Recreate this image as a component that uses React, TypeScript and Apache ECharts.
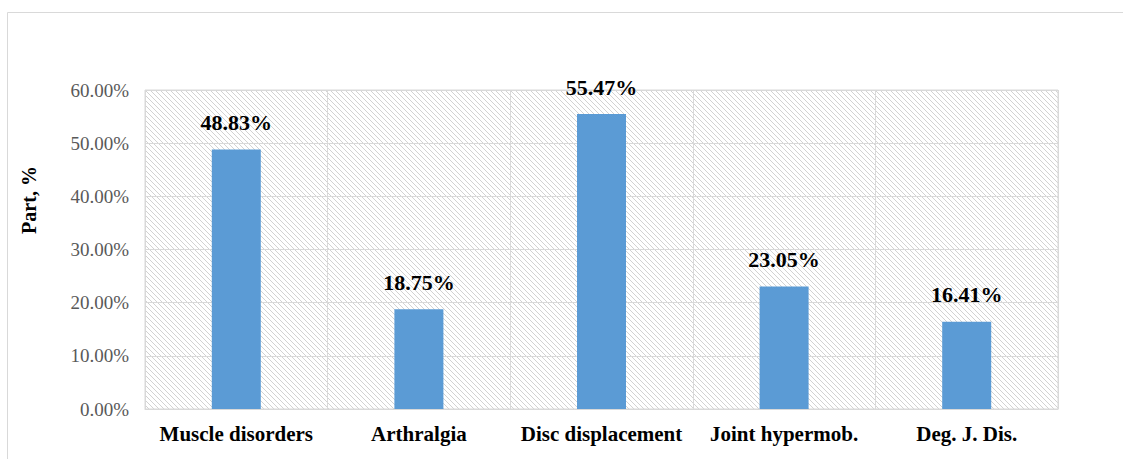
import React, { useEffect, useRef } from "react";
import * as echarts from "echarts";

const categories = ["Muscle disorders", "Arthralgia", "Disc displacement", "Joint hypermob.", "Deg. J. Dis."];
const values = [48.83, 18.75, 55.47, 23.05, 16.41];
const yTicks = [0, 10, 20, 30, 40, 50, 60];
const yAxisTitle = "Part, %";

function makeHatch(): HTMLCanvasElement {
  const c = document.createElement("canvas");
  const s = 5;
  c.width = s;
  c.height = s;
  const ctx = c.getContext("2d")!;
  ctx.fillStyle = "#ffffff";
  ctx.fillRect(0, 0, s, s);
  ctx.strokeStyle = "#d2d2d2";
  ctx.lineWidth = 1;
  ctx.beginPath();
  ctx.moveTo(-1, -1);
  ctx.lineTo(s + 1, s + 1);
  ctx.moveTo(-1, s - 1);
  ctx.lineTo(1, s + 1);
  ctx.moveTo(s - 1, -1);
  ctx.lineTo(s + 1, 1);
  ctx.stroke();
  return c;
}

export default function App() {
  const ref = useRef<HTMLDivElement>(null);
  useEffect(() => {
    if (!ref.current) return;
    const chart = echarts.init(ref.current, undefined, { renderer: "svg" });
    const hatch = makeHatch();
    chart.setOption({
      animation: false,
      backgroundColor: "#ffffff",
      grid: {
        show: true,
        left: 145,
        right: 65,
        top: 90,
        bottom: 50,
        borderColor: "#d9d9d9",
        borderWidth: 1,
        backgroundColor: { image: hatch, repeat: "repeat" } as any,
      },
      graphic: [
        {
          type: "rect",
          shape: { x: 7.5, y: 12.5, width: 1200, height: 600 },
          style: { fill: "none", stroke: "#d9d9d9", lineWidth: 1 },
          silent: true,
        },
        {
          type: "text",
          x: 29,
          y: 200,
          rotation: Math.PI / 2,
          style: {
            text: yAxisTitle,
            font: "bold 20px 'Liberation Serif', serif",
            fill: "#000000",
            align: "center",
            verticalAlign: "middle",
          },
        },
      ],
      xAxis: {
        type: "category",
        data: categories,
        axisTick: { show: false },
        axisLine: { show: true, lineStyle: { color: "#d9d9d9" } },
        splitLine: { show: true, lineStyle: { color: "#d9d9d9", width: 1 } },
        axisLabel: {
          color: "#000000",
          fontFamily: "'Liberation Serif', serif",
          fontWeight: "bold",
          fontSize: 21,
          margin: 14,
          interval: 0,
        },
      },
      yAxis: {
        type: "value",
        min: yTicks[0],
        max: yTicks[yTicks.length - 1],
        interval: 10,
        axisLine: { show: false },
        axisTick: { show: false },
        splitLine: { show: true, lineStyle: { color: "#d9d9d9", width: 1 } },
        axisLabel: {
          color: "#595959",
          fontFamily: "'Liberation Serif', serif",
          fontSize: 19,
          margin: 16,
          formatter: (v: number) => v.toFixed(2) + "%",
        },
      },
      series: [
        {
          type: "bar",
          data: values,
          barWidth: 49,
          itemStyle: { color: "#5B9BD5" },
          label: {
            show: true,
            position: "top",
            distance: 16,
            color: "#000000",
            fontFamily: "'Liberation Serif', serif",
            fontWeight: "bold",
            fontSize: 22,
            formatter: (p: any) => p.value.toFixed(2) + "%",
          },
        },
      ],
    });
    return () => chart.dispose();
  }, []);
  return (
    <div
      ref={ref}
      style={{ position: "absolute", left: 0, top: 0, width: 1123, height: 459 }}
    />
  );
}
